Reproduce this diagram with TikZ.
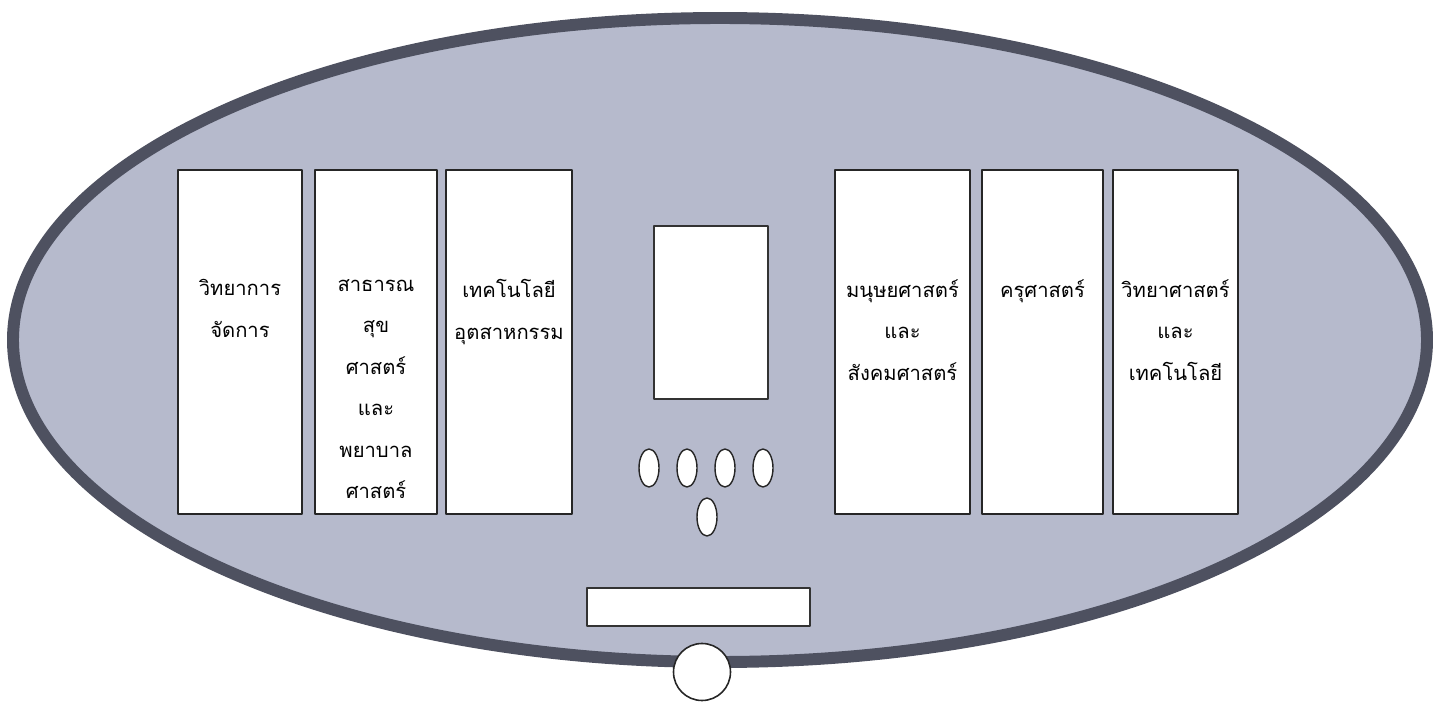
\documentclass[tikz,border=0pt]{standalone}
\usepackage{fontspec}
\newfontfamily\thaifont[Script=Thai]{Loma}
\usetikzlibrary{positioning,shapes.geometric}
\definecolor{rimgray}{RGB}{78,81,96}
\definecolor{panelgray}{RGB}{182,186,204}

\begin{document}
\begin{tikzpicture}[line cap=round, line join=round,
  facultybox/.style={draw=black!85, line width=0.9pt, fill=white,
    minimum width=#1, minimum height=6.88cm, inner sep=0pt},
  facultytext/.style={font=\thaifont\fontsize{11.5}{23.6}\selectfont,
    align=center, inner sep=0pt},
  plainbox/.style={draw=black!80, line width=0.9pt, fill=white, inner sep=0pt},
  seat/.style={ellipse, draw=black!85, line width=0.8pt, fill=white,
    minimum width=0.4cm, minimum height=0.76cm, inner sep=0pt}]
  \useasboundingbox (0,0) rectangle (28.92,14.08);
  \draw[rimgray, fill=panelgray, line width=6.8pt] (14.40,7.28) ellipse (14.14 and 6.44);

  \node[facultybox=2.48cm] (mgmt) at (4.80,7.24) {};
  \node[facultybox=2.44cm] (health) at (7.52,7.24) {};
  \node[facultybox=2.52cm] (indtech) at (10.18,7.24) {};
  \node[facultybox=2.70cm] (human) at (18.05,7.24) {};
  \node[facultybox=2.42cm] (edu) at (20.85,7.24) {};
  \node[facultybox=2.50cm] (scitech) at (23.51,7.24) {};

  \node[facultytext, below=2.2cm of mgmt.north] (mgmtlbl) {วิทยาการ\\จัดการ};
  \node[facultytext, below=2.2cm of health.north] (healthlbl)
    {สาธารณ\\สุข\\ศาสตร์\\และ\\พยาบาล\\ศาสตร์};
  \node[facultytext, below=2.2cm of indtech.north] (indtechlbl) {เทคโนโลยี\\อุตสาหกรรม};
  \node[facultytext, below=2.2cm of human.north] (humanlbl)
    {มนุษยศาสตร์\\และ\\สังคมศาสตร์};
  \node[facultytext, below=2.2cm of edu.north] (edulbl) {ครุศาสตร์};
  \node[facultytext, below=2.2cm of scitech.north] (scitechlbl)
    {วิทยาศาสตร์\\และ\\เทคโนโลยี};

  \node[plainbox, minimum width=2.28cm, minimum height=3.46cm] (stage) at (14.22,7.83) {};
  \foreach \sx [count=\i] in {12.98,13.74,14.50,15.26}
    \node[seat] (seat\i) at (\sx,4.72) {};
  \node[seat] (seat5) at (14.14,3.74) {};
  \node[plainbox, minimum width=4.46cm, minimum height=0.76cm] (desk) at (13.97,1.94) {};
  \node[circle, draw=black!85, line width=0.9pt, fill=white,
    minimum size=1.14cm, inner sep=0pt] (gate) at (14.04,0.64) {};
\end{tikzpicture}
\end{document}
